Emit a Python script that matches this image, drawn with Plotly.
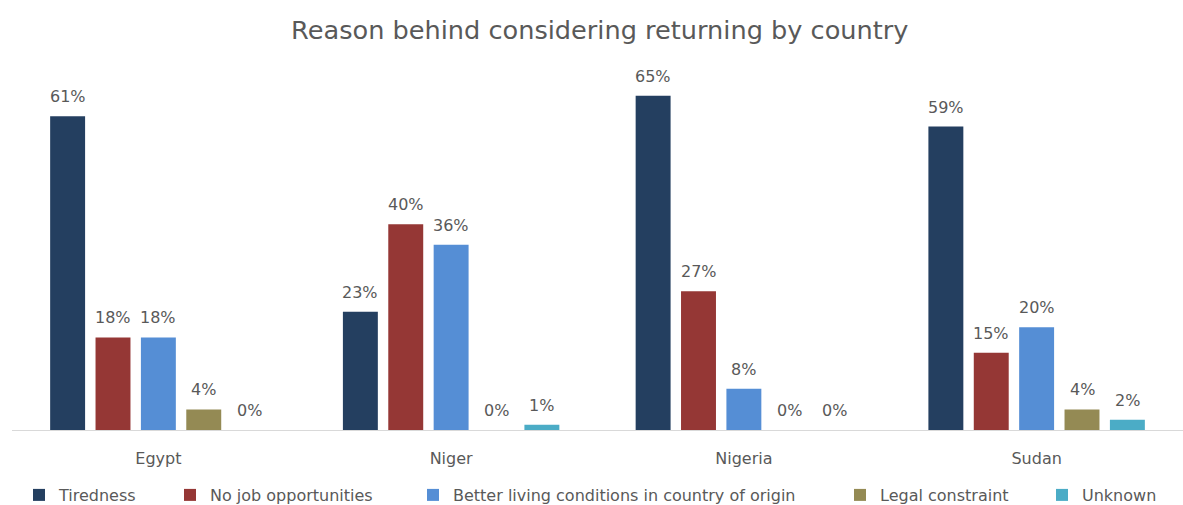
import plotly.graph_objects as go

countries = ["Egypt", "Niger", "Nigeria", "Sudan"]
series_names = [
    "Tiredness",
    "No job opportunities",
    "Better living conditions in country of origin",
    "Legal constraint",
    "Unknown",
]
tiredness = [0.61, 0.23, 0.65, 0.59]
no_job = [0.18, 0.40, 0.27, 0.15]
better_living = [0.18, 0.36, 0.08, 0.20]
legal = [0.04, 0.00, 0.00, 0.04]
unknown = [0.00, 0.01, 0.00, 0.02]
colors = ["#243F60", "#953735", "#558ED5", "#948A54", "#4BACC6"]

series_values = [tiredness, no_job, better_living, legal, unknown]

W, H = 1183, 505
ML, MR, MT, MB = 12, 0, 70, 75
BARGAP = 0.225
BARGROUPGAP = 0.23
FONT = "DejaVu Sans"
TEXT_GRAY = "#595959"

# left edge (px) of each legend entry's label text
legend_text_px = [56, 207, 450, 877, 1079]
legend_names = ["legend", "legend2", "legend3", "legend4", "legend5"]

fig = go.Figure()
xs = list(range(len(countries)))
for name, vals, col, lg in zip(series_names, series_values, colors, legend_names):
    fig.add_trace(go.Bar(
        x=xs, y=vals, name=name, legend=lg,
        marker=dict(color=col, line=dict(width=0)),
    ))

# value labels placed above each bar, centred on its slot in the group
n = len(series_values)
slot = (1 - BARGAP) / n
annotations = []
for j, vals in enumerate(series_values):
    for i, v in enumerate(vals):
        annotations.append(dict(
            x=i + (j - (n - 1) / 2) * slot, y=v, xref="x", yref="y",
            text=f"{round(v * 100)}%", showarrow=False, yanchor="bottom",
            yshift=8, font=dict(family=FONT, size=16, color=TEXT_GRAY),
        ))

plot_w = W - ML - MR
plot_h = H - MT - MB
legend_y = (H - MB - 495) / plot_h
legend_layouts = {}
for lg, px in zip(legend_names, legend_text_px):
    legend_layouts[lg] = dict(
        orientation="h", x=(px - 37 - ML) / plot_w, xanchor="left",
        y=legend_y, yanchor="middle", bgcolor="rgba(0,0,0,0)",
        font=dict(family=FONT, size=16, color=TEXT_GRAY),
    )

fig.update_layout(
    width=W, height=H,
    paper_bgcolor="white", plot_bgcolor="white",
    margin=dict(l=ML, r=MR, t=MT, b=MB, autoexpand=False),
    barmode="group", bargap=BARGAP, bargroupgap=BARGROUPGAP,
    title=dict(text="Reason behind considering returning by country",
               x=0.507, xanchor="center", y=0.94, yanchor="middle",
               font=dict(family=FONT, size=25.6, color=TEXT_GRAY)),
    xaxis=dict(tickvals=xs, ticktext=countries, range=[-0.5, len(countries) - 0.5],
               showline=True, linecolor="#D9D9D9", linewidth=1, ticks="",
               showgrid=False, zeroline=False, ticklabelstandoff=14,
               tickfont=dict(family=FONT, size=16, color=TEXT_GRAY)),
    yaxis=dict(range=[0, 0.7], visible=False, showgrid=False, zeroline=False),
    showlegend=True,
    annotations=annotations,
    **legend_layouts,
)

fig.write_html("out.html")
